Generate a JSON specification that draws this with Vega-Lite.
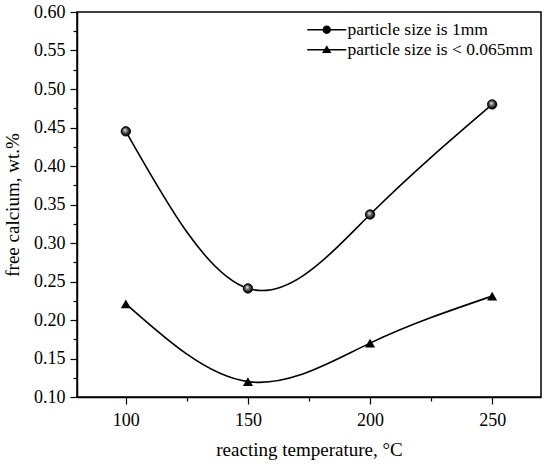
{
  "$schema": "https://vega.github.io/schema/vega-lite/v6.json",
  "width": 464,
  "height": 385,
  "autosize": "none",
  "padding": {"left": 77, "top": 12, "right": 9, "bottom": 67},
  "background": "white",
  "config": {
    "font": "Liberation Serif",
    "view": {"stroke": "black", "strokeWidth": 1.5},
    "style": {
      "guide-label": {"font": "Liberation Serif", "fontSize": 18, "fill": "black"},
      "guide-title": {"font": "Liberation Serif", "fontSize": 19, "fill": "black", "fontWeight": "normal"}
    }
  },
  "data": {
    "values": [
      {"temp": 100, "ca": 0.445, "series": "particle size is 1mm"},
      {"temp": 150, "ca": 0.241, "series": "particle size is 1mm"},
      {"temp": 200, "ca": 0.337, "series": "particle size is 1mm"},
      {"temp": 250, "ca": 0.480, "series": "particle size is 1mm"},
      {"temp": 100, "ca": 0.221, "series": "particle size is < 0.065mm"},
      {"temp": 150, "ca": 0.120, "series": "particle size is < 0.065mm"},
      {"temp": 200, "ca": 0.170, "series": "particle size is < 0.065mm"},
      {"temp": 250, "ca": 0.231, "series": "particle size is < 0.065mm"}
    ]
  },
  "encoding": {
    "x": {
      "field": "temp",
      "type": "quantitative",
      "scale": {"domain": [80, 270], "nice": false, "zero": false},
      "axis": {
        "title": "reacting temperature, \u00b0C",
        "grid": false,
        "domainColor": "black",
        "domainWidth": 1.5,
        "tickColor": "black",
        "tickWidth": 1.2,
        "labelFont": "Liberation Serif",
        "labelFontSize": 18,
        "labelColor": "black",
        "titleFont": "Liberation Serif",
        "titleFontSize": 19,
        "titleFontWeight": "normal",
        "titleColor": "black",
        "values": [100, 125, 150, 175, 200, 225, 250],
        "labelExpr": "datum.value % 50 == 0 ? datum.label : ''",
        "tickSize": {"condition": {"test": "datum.value % 50 == 0", "value": 7}, "value": 4},
        "labelPadding": 7,
        "titlePadding": 11
      }
    },
    "y": {
      "field": "ca",
      "type": "quantitative",
      "scale": {"domain": [0.1, 0.6], "nice": false, "zero": false},
      "axis": {
        "title": "free calcium, wt.%",
        "grid": false,
        "domainColor": "black",
        "domainWidth": 1.5,
        "tickColor": "black",
        "tickWidth": 1.2,
        "labelFont": "Liberation Serif",
        "labelFontSize": 18,
        "labelColor": "black",
        "titleFont": "Liberation Serif",
        "titleFontSize": 19,
        "titleFontWeight": "normal",
        "titleColor": "black",
        "values": [0.1, 0.125, 0.15, 0.175, 0.2, 0.225, 0.25, 0.275, 0.3, 0.325, 0.35, 0.375, 0.4, 0.425, 0.45, 0.475, 0.5, 0.525, 0.55, 0.575, 0.6],
        "format": ".2f",
        "labelExpr": "round(datum.value * 40) % 2 == 0 ? datum.label : ''",
        "tickSize": {"condition": {"test": "round(datum.value * 40) % 2 == 0", "value": 7}, "value": 4},
        "labelPadding": 5,
        "titlePadding": 11
      }
    }
  },
  "layer": [
    {
      "mark": {"type": "line", "interpolate": "natural", "color": "black", "strokeWidth": 1.6},
      "encoding": {"detail": {"field": "series"}}
    },
    {
      "transform": [{"filter": "false"}],
      "mark": {"type": "point", "filled": true, "color": "black", "opacity": 1},
      "encoding": {
        "shape": {
          "field": "series",
          "type": "nominal",
          "scale": {
            "domain": ["particle size is 1mm", "particle size is < 0.065mm"],
            "range": [
              "M-3.25,-0.12H3.25V0.12H-3.25Z M0.7,0A0.7,0.7 0 1,1 -0.7,0A0.7,0.7 0 1,1 0.7,0Z",
              "M-3.25,-0.12H3.25V0.12H-3.25Z M0,-0.75L0.78,0.55H-0.78Z"
            ]
          },
          "legend": {
            "title": null,
            "orient": "none",
            "legendX": 241,
            "legendY": 9,
            "padding": 0,
            "symbolSize": 144,
            "symbolFillColor": "black",
            "symbolOpacity": 1,
            "labelFont": "Liberation Serif",
            "labelFontSize": 17.5,
            "labelColor": "black",
            "labelLimit": 300,
            "labelOffset": 12,
            "rowPadding": 1
          }
        }
      }
    },
    {
      "transform": [{"filter": "datum.series === 'particle size is 1mm'"}],
      "mark": {
        "type": "point",
        "shape": "circle",
        "size": 90,
        "opacity": 1,
        "stroke": "black",
        "strokeWidth": 0.8,
        "fill": {
          "gradient": "radial",
          "x1": 0.4, "y1": 0.35, "r1": 0,
          "x2": 0.5, "y2": 0.5, "r2": 0.55,
          "stops": [
            {"offset": 0, "color": "#ffffff"},
            {"offset": 0.3, "color": "#8a8a8a"},
            {"offset": 0.75, "color": "#111111"},
            {"offset": 1, "color": "#000000"}
          ]
        }
      },
      "encoding": {}
    },
    {
      "transform": [{"filter": "datum.series === 'particle size is < 0.065mm'"}],
      "mark": {"type": "point", "shape": "triangle-up", "size": 100, "filled": true, "color": "black", "opacity": 1},
      "encoding": {}
    }
  ]
}
